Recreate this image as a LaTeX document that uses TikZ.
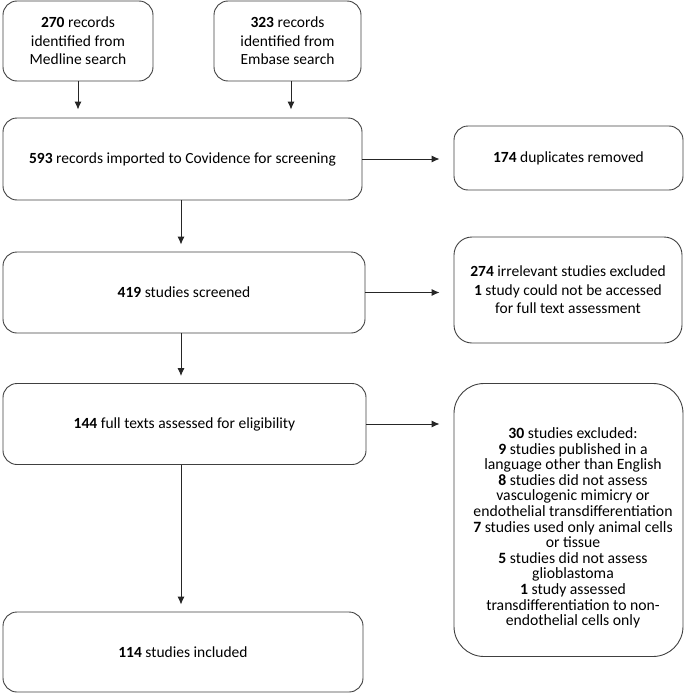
\documentclass[tikz,border=0pt]{standalone}
\usepackage{fontspec}
\setmainfont{Carlito}
\usepackage{tikz}
\usetikzlibrary{arrows.meta}

\tikzset{
  box/.style={draw=black!75, line width=0.9pt, rounded corners=14pt, align=center,
    font=\fontsize{15.5}{18.5}\selectfont, inner sep=2pt},
  flow/.style={draw=black!85, line width=0.9pt, ->, >={Latex[length=8pt,width=7pt]}},
}

\begin{document}
\begin{tikzpicture}[x=1pt, y=-1pt]
\useasboundingbox (0,0) rectangle (685,693);

\node[box, minimum width=150pt, minimum height=80pt] (medline) at (78,41)
  {\textbf{270} records\\identified from\\Medline search};
\node[box, minimum width=147pt, minimum height=80pt] (embase) at (287.5,41)
  {\textbf{323} records\\identified from\\Embase search};
\node[box, minimum width=359pt, minimum height=82pt] (imported) at (182.5,159)
  {\textbf{593} records imported to Covidence for screening};
\node[box, minimum width=229pt, minimum height=64pt] (dupl) at (568.5,158)
  {\textbf{174} duplicates removed};
\node[box, minimum width=362pt, minimum height=81pt] (screened) at (184,292.5)
  {\textbf{419} studies screened};
\node[box, rounded corners=18pt, minimum width=228pt, minimum height=106pt] (irrel) at (568,290)
  {\textbf{274} irrelevant studies excluded\\\textbf{1} study could not be accessed\\for full text assessment};
\node[box, minimum width=363pt, minimum height=81pt] (fulltext) at (184.5,424)
  {\textbf{144} full texts assessed for eligibility};
\node[box, rounded corners=30pt, minimum width=229pt, minimum height=273pt] (excl) at (568.5,520) {};
\node[align=center, font=\fontsize{15.7}{15.6}\selectfont, inner sep=0pt] (excltext) at (573,528)
  {\textbf{30} studies excluded:\\\textbf{9} studies published in a\\language other than English\\
   \textbf{8} studies did not assess\\vasculogenic mimicry or\\endothelial transdifferentiation\\
   \textbf{7} studies used only animal cells\\or tissue\\\textbf{5} studies did not assess\\
   glioblastoma\\\textbf{1} study assessed\\transdifferentiation to non-\\endothelial cells only};
\node[box, minimum width=360pt, minimum height=80pt] (incl) at (183,652)
  {\textbf{114} studies included};

% downward flow
\draw[flow, shorten >=8pt] (medline.south) -- (medline.south |- imported.north);
\draw[flow, shorten >=8pt] (embase.south -| 291,0) -- (291,0 |- imported.north);
\draw[flow, shorten >=7pt] (imported.south -| 181,0) -- (181,0 |- screened.north);
\draw[flow, shorten >=7pt] (screened.south -| 181,0) -- (181,0 |- fulltext.north);
\draw[flow, shorten >=7pt] (fulltext.south -| 181,0) -- (181,0 |- incl.north);

% exclusions
\draw[flow, shorten >=14pt] (imported.east) -- (imported.east -| dupl.west);
\draw[flow, shorten >=14pt] (screened.east) -- (screened.east -| irrel.west);
\draw[flow, shorten >=14pt] (fulltext.east) -- (fulltext.east -| excl.west);

\end{tikzpicture}
\end{document}
